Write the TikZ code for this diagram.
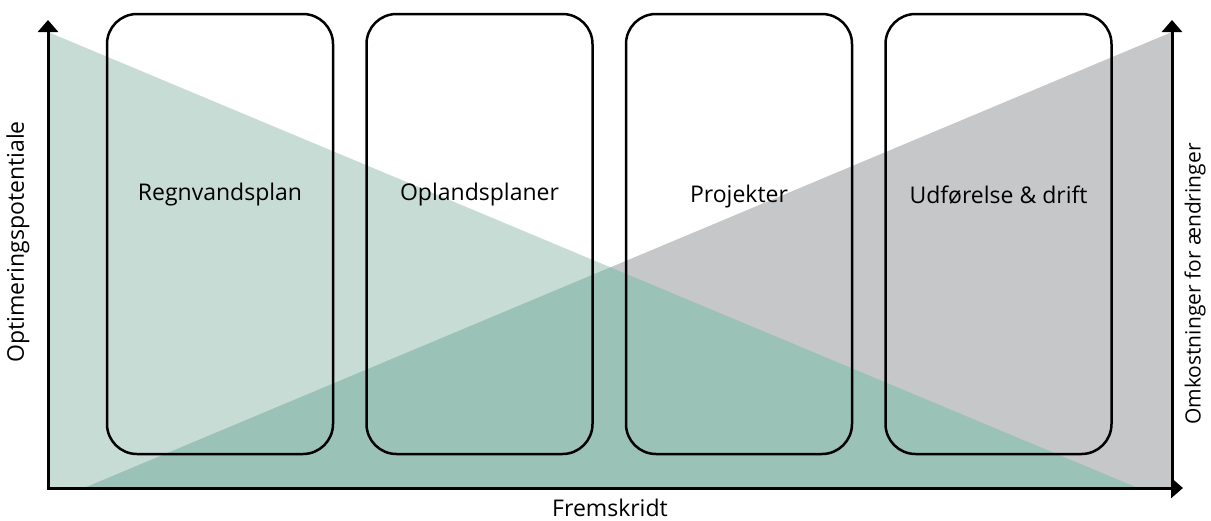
\documentclass[tikz,border=0pt]{standalone}
\usepackage{fontspec}
\setmainfont{Open Sans}
\usetikzlibrary{arrows.meta}
\definecolor{lgreen}{HTML}{C8DCD6}
\definecolor{dgreen}{HTML}{9AC2B7}
\definecolor{lgray}{HTML}{C6C7C9}
\begin{document}
\begin{tikzpicture}[x=1pt,y=-1pt,
  phase/.style={draw=black,line width=2.5pt,rounded corners=30pt,minimum width=226pt,minimum height=440pt,inner sep=0pt},
  lbl/.style={font=\fontsize{23}{27}\selectfont,inner sep=0pt},
  axis/.style={line width=3pt,-{Triangle[width=20pt,length=12pt]}}]
\useasboundingbox (0,0) rectangle (1211,520);
% triangles
\fill[lgreen] (48,32) -- (48,488) -- (1138,488) -- cycle;
\fill[lgray] (84,488) -- (1172,32) -- (1172,488) -- cycle;
\begin{scope}
\clip (48,32) -- (48,488) -- (1138,488) -- cycle;
\fill[dgreen] (84,488) -- (1172,32) -- (1172,488) -- cycle;
\end{scope}
% boxes
\node[phase] (b1) at (220,234) {};
\node[phase] (b2) at (479.5,234) {};
\node[phase] (b3) at (739,234) {};
\node[phase] (b4) at (998.5,234) {};
\node[lbl] (t1) at (220,195) {Regnvandsplan};
\node[lbl] (t2) at (479.5,195) {Oplandsplaner};
\node[lbl] (t3) at (739,197) {Projekter};
\node[lbl] (t4) at (998.5,195) {Udførelse \& drift};
% axes
\coordinate (o) at (48,488);
\coordinate (ytop) at (48,20);
\coordinate (xend) at (1183,488);
\coordinate (ro) at (1172,488);
\coordinate (rtop) at (1172,20);
\draw[axis] ([xshift=-1.5pt]o) -- (xend);
\draw[axis] ([yshift=1.5pt]o) -- (ytop);
\draw[axis] ([yshift=1.5pt]ro) -- (rtop);
\node[lbl] (xl) at (610,508) {Fremskridt};
\node[lbl,rotate=90] (yl) at (18,242) {Optimeringspotentiale};
\node[lbl,rotate=90,font=\fontsize{21}{25}\selectfont] (rl) at (1195,284) {Omkostninger for ændringer};
\end{tikzpicture}
\end{document}
